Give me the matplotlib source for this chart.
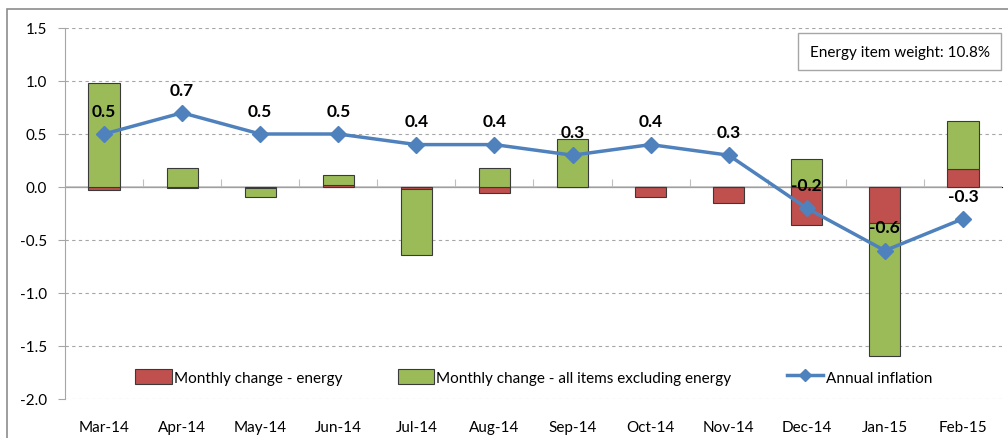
import numpy as np
import matplotlib
matplotlib.use("Agg")
import matplotlib.pyplot as plt
from matplotlib.patches import Rectangle, Patch
from matplotlib.lines import Line2D

# ---------- Data ----------
months = ["Mar-14", "Apr-14", "May-14", "Jun-14", "Jul-14", "Aug-14",
          "Sep-14", "Oct-14", "Nov-14", "Dec-14", "Jan-15", "Feb-15"]
energy = [-0.03, -0.01, -0.01, 0.02, -0.02, -0.06, 0.0, -0.09, -0.15, -0.36, -0.34, 0.17]
non_energy = [0.98, 0.18, -0.08, 0.09, -0.62, 0.18, 0.45, 0.0, 0.0, 0.26, -1.25, 0.45]
annual = [0.5, 0.7, 0.5, 0.5, 0.4, 0.4, 0.3, 0.4, 0.3, -0.2, -0.6, -0.3]

RED = "#C0504D"
GREEN = "#9BBB59"
BLUE = "#4F81BD"
GRID = "#A6A6A6"

plt.rcParams["font.family"] = ["Lato", "DejaVu Sans"]

fig = plt.figure(figsize=(10.08, 4.39), dpi=100)
ax = fig.add_axes([65 / 1008, 1 - 400 / 439, (1002 - 65) / 1008, 371 / 439])

# outer chart border
fig.patches.append(Rectangle((7 / 1008, -0.1), 1.2, 1.1 - 10 / 439,
                             transform=fig.transFigure, fill=False,
                             edgecolor="#8C8C8C", linewidth=1.2, zorder=0))

x = np.arange(len(months))
energy = np.array(energy)
non_energy = np.array(non_energy)

# Excel-style stacking: positives and negatives stack separately
pos_base = np.where(energy > 0, energy, 0)
neg_base = np.where(energy < 0, energy, 0)
ne_bottom = np.where(non_energy >= 0, pos_base, neg_base)

w = 0.4
ax.bar(x, energy, width=w, color=RED, edgecolor="#3A3A3A", linewidth=0.8, zorder=3)
ax.bar(x, non_energy, width=w, bottom=ne_bottom, color=GREEN,
       edgecolor="#3A3A3A", linewidth=0.8, zorder=3)

ax.plot(x, annual, color=BLUE, linewidth=2.5, marker="D", markersize=8, zorder=4)
for xi, v in zip(x, annual):
    ax.annotate(f"{v:.1f}", (xi, v), xytext=(0, 11), textcoords="offset points",
                ha="center", va="bottom", fontsize=12.5, fontweight="bold", zorder=5)

ax.set_xlim(-0.5, 11.5)
ax.set_ylim(-2.0, 1.5)
yt = np.arange(-2.0, 1.51, 0.5)
ax.set_yticks(yt)
ax.set_yticklabels([f"{v:.1f}" for v in yt], fontsize=11)
for v in yt:
    if abs(v) > 1e-9:
        ax.axhline(v, color=GRID, linestyle=(0, (3, 3)), linewidth=0.8, zorder=1)
ax.axhline(0, color="#BFBFBF", linewidth=1.2, zorder=2)

ax.set_xticks(x)
ax.set_xticklabels(months, fontsize=11)
ax.tick_params(axis="x", length=0, pad=15)
ax.tick_params(axis="y", length=5, color=GRID, pad=8)

for s in ["top", "right", "bottom"]:
    ax.spines[s].set_visible(False)
ax.spines["left"].set_color(GRID)

# category boundary ticks on the zero line
sec = ax.secondary_xaxis(2.0 / 3.5)
sec.set_xticks(np.arange(0.5, 11.5, 1.0))
sec.set_xticklabels([])
sec.tick_params(length=6, color="#BFBFBF", direction="out")
sec.spines["bottom"].set_visible(False)

handles = [Patch(facecolor=RED, edgecolor="#3A3A3A", linewidth=0.8),
           Patch(facecolor=GREEN, edgecolor="#3A3A3A", linewidth=0.8),
           Line2D([], [], color=BLUE, linewidth=2.5, marker="D", markersize=6)]
labels = ["Monthly change - energy", "Monthly change - all items excluding energy",
          "Annual inflation"]
ax.legend(handles, labels, loc="center", bbox_to_anchor=(0.5, 0.06), ncol=3,
          frameon=False, fontsize=11, handlelength=2.4, handleheight=1.1,
          handletextpad=0.15, columnspacing=3.6)

ax.text(0.987, 0.955, "Energy item weight: 10.8%", transform=ax.transAxes,
        ha="right", va="top", fontsize=11,
        bbox=dict(boxstyle="square,pad=0.75", facecolor="white", edgecolor="#A6A6A6"))

fig.savefig("out.png", dpi=100)
